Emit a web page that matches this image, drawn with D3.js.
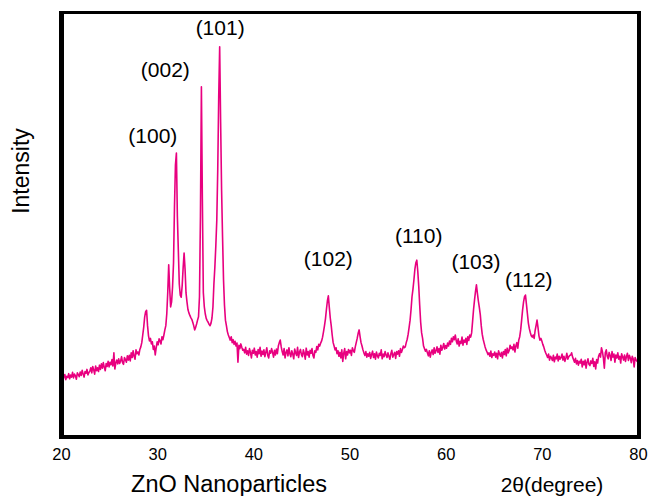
<!DOCTYPE html>
<html>
<head>
<meta charset="utf-8">
<script src="https://cdn.jsdelivr.net/npm/d3@7"></script>
<style>
  body { margin: 0; background: #fff; }
  text { font-family: "Liberation Sans", Arial, sans-serif; fill: #000; }
</style>
</head>
<body>
<script>
// XRD pattern of ZnO nanoparticles, 2theta from 20 to 80 deg, step 0.1
var startAngle = 20;
var stepAngle = 0.1;
var intensity = [
  138, 144, 133, 142, 147, 135, 143, 140, 149, 137,
  146, 141, 152, 139, 148, 144, 136, 151, 147, 142,
  153, 145, 157, 148, 141, 154, 150, 159, 146, 152,
  155, 163, 151, 166, 158, 148, 167, 156, 163, 154,
  169, 159, 172, 162, 175, 164, 156, 173, 166, 178,
  165, 176, 170, 182, 167, 198, 160, 174, 181, 172,
  184, 173, 179, 189, 175, 171, 187, 182, 176, 191,
  181, 192, 179, 198, 187, 203, 190, 183, 205, 196,
  200, 193, 206, 212, 222, 240, 258, 282, 295, 298,
  262, 238, 226, 232, 219, 224, 206, 214, 193, 210,
  224, 217, 231, 226, 219, 236, 229, 240, 252, 262,
  290, 340, 405, 350, 306, 318, 353, 409, 541, 640,
  668, 520, 440, 360, 334, 329, 356, 398, 433, 395,
  339, 318, 300, 292, 286, 281, 277, 270, 262, 252,
  258, 266, 275, 283, 330, 520, 824, 560, 340, 307,
  290, 279, 274, 270, 265, 262, 268, 280, 306, 360,
  400, 450, 510, 630, 800, 918, 740, 580, 470, 370,
  310, 275, 262, 248, 240, 234, 228, 236, 222, 229,
  218, 225, 214, 221, 176, 216, 208, 219, 211, 204,
  206, 198, 211, 195, 203, 192, 208, 199, 186, 204,
  197, 209, 193, 201, 188, 206, 196, 211, 190, 202,
  194, 205, 189, 199, 210, 192, 186, 203, 197, 208,
  199, 188, 204, 193, 207, 196, 214, 222, 228, 212,
  201, 193, 208, 186, 199, 205, 191, 210, 196, 189,
  203, 195, 184, 207, 198, 192, 211, 187, 200, 206,
  194, 189, 205, 197, 183, 209, 193, 201, 188, 204,
  197, 208, 192, 186, 203, 199, 213, 205, 218, 214,
  221, 226, 235, 248, 262, 278, 300, 320, 332, 305,
  280, 262, 240, 222, 214, 205, 210, 196, 203, 190,
  199, 186, 205, 178, 197, 208, 184, 201, 193, 206,
  198, 204, 192, 210, 203, 199, 212, 222, 232, 244,
  252, 236, 222, 214, 205, 198, 192, 201, 188, 196,
  190, 199, 185, 194, 202, 187, 196, 183, 200, 191,
  186, 197, 192, 205, 184, 195, 189, 201, 193, 187,
  198, 190, 183, 196, 204, 188, 194, 199, 185, 201,
  195, 203, 190, 208, 199, 206, 214, 210, 212, 222,
  230, 242, 258, 275, 300, 330, 348, 370, 395, 410,
  416, 390, 355, 310, 270, 245, 232, 214, 208, 202,
  206, 198, 191, 203, 188, 199, 205, 194, 210, 197,
  203, 212, 199, 208, 195, 216, 204, 211, 220, 207,
  215, 209, 221, 214, 226, 218, 232, 224, 236, 229,
  240, 226, 219, 231, 214, 225, 220, 235, 216, 228,
  223, 232, 218, 236, 227, 240, 235, 245, 272, 300,
  322, 342, 358, 338, 320, 305, 288, 262, 242, 230,
  221, 212, 205, 200, 194, 198, 190, 202, 187, 196,
  192, 200, 188, 197, 184, 203, 195, 190, 199, 186,
  201, 194, 206, 191, 209, 198, 203, 216, 208, 212,
  205, 218, 200, 214, 222, 209, 228, 236, 252, 275,
  299, 318, 330, 334, 312, 290, 268, 255, 246, 238,
  235, 240, 232, 250, 262, 275, 258, 238, 228, 232,
  226, 218, 212, 204, 198, 193, 187, 195, 181, 190,
  186, 180, 192, 177, 188, 184, 195, 179, 190, 183,
  187, 195, 181, 190, 178, 186, 197, 183, 189, 192,
  193, 198, 188, 182, 176, 185, 172, 180, 169, 178,
  174, 183, 165, 178, 170, 181, 162, 176, 184, 171,
  168, 179, 173, 185, 166, 177, 160, 182, 174, 190,
  196, 188, 210, 201, 186, 162, 198, 205, 190, 184,
  199, 192, 180, 201, 188, 195, 176, 193, 186, 198,
  183, 190, 174, 196, 188, 181, 193, 178, 189, 197,
  180, 192, 186, 175, 190, 184, 165, 187, 181, 178,
  182
];

// peak labels (Miller indices) and where their text sits
var peakLabels = ["(100)", "(002)", "(101)", "(102)", "(110)", "(103)", "(112)"];
var labelAngle = [29.55, 30.85, 36.55, 47.8, 57.2, 63.15, 68.65];
var labelLevel = [692, 847, 946, 402, 456, 395, 353];

var xTicks = [20, 30, 40, 50, 60, 70, 80];

var width = 648, height = 496;
var plotLeft = 61, plotRight = 638, plotTop = 12, plotBottom = 437;

var svg = d3.select("body").append("svg")
    .attr("width", width)
    .attr("height", height);

var x = d3.scaleLinear().domain([20, 80]).range([plotLeft, plotRight]);
var y = d3.scaleLinear().domain([0, 1000]).range([plotBottom, plotTop]);

var pattern = intensity.map(function(v, i){
    return {angle: startAngle + i * stepAngle, value: v};
});

var line = d3.line()
    .x(function(d){ return x(d.angle); })
    .y(function(d){ return y(d.value); });

svg.append("path")
    .datum(pattern)
    .attr("fill", "none")
    .attr("stroke", "#e8007f")
    .attr("stroke-width", 1.6)
    .attr("stroke-linejoin", "round")
    .attr("d", line);

// frame (left/bottom heavier than top/right)
svg.append("rect").attr("x", 59).attr("y", 11).attr("width", 582).attr("height", 3).attr("fill", "#000");
svg.append("rect").attr("x", 637).attr("y", 11).attr("width", 4).attr("height", 428).attr("fill", "#000");
svg.append("rect").attr("x", 59).attr("y", 11).attr("width", 5).attr("height", 428).attr("fill", "#000");
svg.append("rect").attr("x", 59).attr("y", 435).attr("width", 582).attr("height", 4).attr("fill", "#000");

var xAxis = svg.append("g")
    .attr("transform", "translate(0," + plotBottom + ")")
    .call(d3.axisBottom(x).tickValues(xTicks).tickSize(0).tickPadding(11).tickFormat(d3.format("d")));
xAxis.select(".domain").remove();
xAxis.selectAll("text")
    .style("font-family", "'Liberation Sans', Arial, sans-serif")
    .style("font-size", "16.5px")
    .attr("fill", "#000");

svg.selectAll(".peak")
    .data(peakLabels)
    .enter().append("text")
    .attr("class", "peak")
    .attr("x", function(d, i){ return x(labelAngle[i]); })
    .attr("y", function(d, i){ return y(labelLevel[i]); })
    .attr("text-anchor", "middle")
    .style("font-size", "21px")
    .text(function(d){ return d; });

svg.append("text")
    .attr("x", 229)
    .attr("y", 492)
    .attr("text-anchor", "middle")
    .style("font-size", "23.5px")
    .text("ZnO Nanoparticles");

svg.append("text")
    .attr("x", 552)
    .attr("y", 492)
    .attr("text-anchor", "middle")
    .style("font-size", "21px")
    .text("2θ(degree)");

svg.append("text")
    .attr("transform", "translate(29,171) rotate(-90)")
    .attr("text-anchor", "middle")
    .style("font-size", "23px")
    .text("Intensity");
</script>
</body>
</html>
